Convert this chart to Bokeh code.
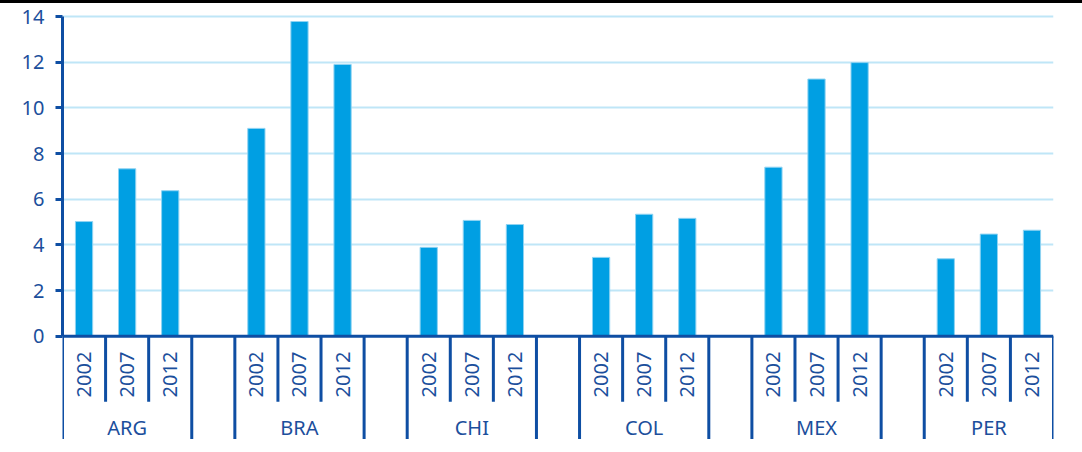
import math
from bokeh.plotting import figure
from bokeh.models import ColumnDataSource, Range1d, Span, FixedTicker
from bokeh.core.properties import value
from bokeh.embed import file_html
from bokeh.resources import INLINE

# ---- data ----
countries = ["ARG", "BRA", "CHI", "COL", "MEX", "PER"]
years = ["2002", "2007", "2012"]
v2002 = [5.02, 9.10, 3.89, 3.45, 7.40, 3.39]
v2007 = [7.33, 13.78, 5.07, 5.34, 11.26, 4.47]
v2012 = [6.37, 11.90, 4.89, 5.16, 11.98, 4.64]
y_ticks = [0, 2, 4, 6, 8, 10, 12, 14]

BAR = "#009fe3"
BAR_EDGE = "#8fd3f2"
GRID = "#bfe6f7"
AXIS = "#0e4ea3"
TEXT = "#1c4f9c"
FONT = "Noto Sans"

# slot layout: each country uses 3 slots, followed by one empty slot
series = [v2002, v2007, v2012]
xs, tops, labels = [], [], []
for g, c in enumerate(countries):
    for i, yr in enumerate(years):
        xs.append(4 * g + i + 0.5)
        tops.append(series[i][g])
        labels.append(yr)
n_slots = 4 * len(countries) - 1

bars = ColumnDataSource(dict(x=xs, top=tops, label=labels))

p = figure(width=1082, height=443, output_backend="svg", toolbar_location=None,
           x_range=Range1d(0, n_slots + 0.0), y_range=Range1d(-4.656, 14.35),
           x_axis_location=None, min_border_left=62, min_border_right=29,
           min_border_top=5, min_border_bottom=4)
p.styles = {"border-top": "3px solid black"}
p.outline_line_color = None
p.background_fill_color = "white"
p.border_fill_color = "white"

# y axis
ya = p.yaxis[0]
ya.ticker = FixedTicker(ticks=y_ticks)
ya.bounds = (0, 14)
ya.axis_line_color = AXIS
ya.axis_line_width = 3
ya.major_tick_line_color = AXIS
ya.major_tick_line_width = 3
ya.major_tick_in = 0
ya.major_tick_out = 7
ya.minor_tick_line_color = None
ya.major_label_standoff = 11
ya.major_label_text_color = TEXT
ya.major_label_text_font = FONT
ya.major_label_text_font_size = "20px"

p.xgrid.visible = False
p.ygrid.ticker = FixedTicker(ticks=y_ticks[1:])
p.ygrid.grid_line_color = GRID
p.ygrid.grid_line_width = 2

# bars
p.vbar(x="x", top="top", bottom=0, width=0.4, source=bars,
       fill_color=BAR, line_color=BAR_EDGE, line_width=1)

# x axis line
p.add_layout(Span(location=0, dimension="width", line_color=AXIS, line_width=3))

# separators
year_sep_x, grp_sep_x = [], []
for g in range(len(countries)):
    year_sep_x += [4 * g + 1, 4 * g + 2]
    grp_sep_x += [4 * g, 4 * g + 3]
p.segment(x0=year_sep_x, x1=year_sep_x, y0=[0] * len(year_sep_x),
          y1=[-2.87] * len(year_sep_x), line_color=AXIS, line_width=3)
p.segment(x0=grp_sep_x, x1=grp_sep_x, y0=[0] * len(grp_sep_x),
          y1=[-4.5] * len(grp_sep_x), line_color=AXIS, line_width=3)

# year labels (rotated)
p.text(x="x", y=-1.68, text="label", source=bars, angle=math.pi / 2,
       text_align="center", text_baseline="middle", text_color=TEXT,
       text_font=value(FONT), text_font_size="20px")

# group labels
p.text(x=[4 * g + 1.5 for g in range(len(countries))], y=-4.0, text=countries,
       text_align="center", text_baseline="middle", text_color=TEXT,
       text_font=value(FONT), text_font_size="20px")

open("out.html", "w").write(file_html(p, INLINE))
